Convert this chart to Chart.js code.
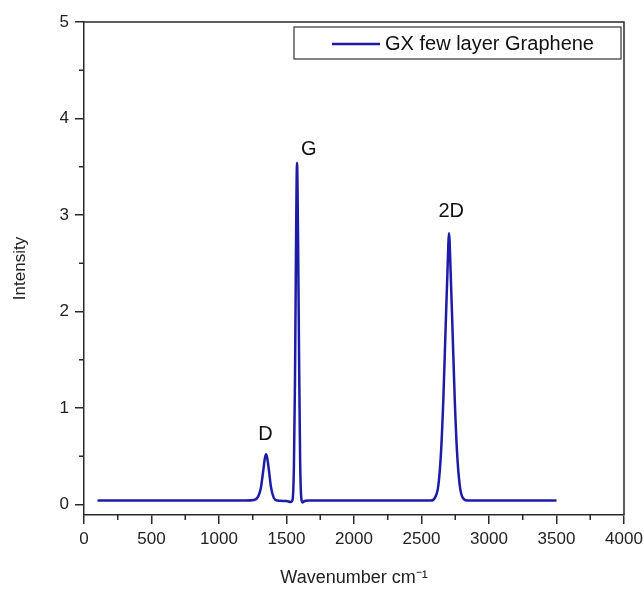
<!DOCTYPE html>
<html>
<head>
<meta charset="utf-8">
<script src="https://cdn.jsdelivr.net/npm/chart.js@4.4.0/dist/chart.umd.min.js"></script>
<style>
  html, body { margin: 0; padding: 0; background: #fff; }
  #wrap { width: 644px; height: 589px; }
</style>
</head>
<body>
<div id="wrap"><canvas id="raman"></canvas></div>
<script>
// Raman spectrum
const wavenumber = [100, 500, 1000, 1200, 1260, 1290, 1310, 1325, 1340, 1348, 1356, 1370, 1385, 1405, 1430, 1500, 1530, 1545,
  1555, 1563, 1570, 1578, 1586, 1594, 1601, 1610, 1620, 1635, 1660, 2000, 2400, 2570, 2600, 2625, 2645, 2662, 2678, 2692,
  2704, 2716, 2730, 2746, 2763, 2783, 2805, 2840, 3200, 3500];
const intensity = [0.04, 0.04, 0.04, 0.04, 0.045, 0.08, 0.17, 0.32, 0.48, 0.52, 0.49, 0.35, 0.18, 0.07, 0.04, 0.035, 0.025, 0.05,
  0.4, 1.3, 2.6, 3.54, 2.7, 1.4, 0.45, 0.06, 0.02, 0.035, 0.04, 0.04, 0.04, 0.04, 0.07, 0.2, 0.55, 1.1, 1.8, 2.4,
  2.81, 2.4, 1.8, 1.1, 0.55, 0.2, 0.07, 0.04, 0.04, 0.04];

const xTicks = [0, 500, 1000, 1500, 2000, 2500, 3000, 3500, 4000];
const yTicks = [0, 1, 2, 3, 4, 5];
const xMinor = [250, 750, 1250, 1750, 2250, 2750, 3250, 3750];
const yMinor = [0.5, 1.5, 2.5, 3.5, 4.5];

const peakNames = ["D", "G", "2D"];
const peakPos = [1345, 1665, 2720];
const peakTop = [0.62, 3.58, 2.93];

const seriesName = "GX few layer Graphene";
const lineColor = "#1c1ca6";
const axisColor = "#2a2a2a";
const font = "'Liberation Sans', Arial, sans-serif";

/* ---- frame, minor ticks, peak labels, legend ---- */
const extras = {
  id: "extras",
  afterDraw(chart) {
    const { ctx, chartArea: a, scales: { x, y } } = chart;
    ctx.save();
    ctx.strokeStyle = axisColor;
    ctx.lineWidth = 1.5;
    ctx.beginPath();
    ctx.moveTo(a.left, a.top);
    ctx.lineTo(a.right, a.top);
    ctx.lineTo(a.right, a.bottom);
    ctx.stroke();

    ctx.beginPath();
    xMinor.forEach(v => {
      const px = x.getPixelForValue(v);
      ctx.moveTo(px, a.bottom);
      ctx.lineTo(px, a.bottom + 5);
    });
    yMinor.forEach(v => {
      const py = y.getPixelForValue(v);
      ctx.moveTo(a.left, py);
      ctx.lineTo(a.left - 5, py);
    });
    ctx.stroke();

    ctx.fillStyle = "#111";
    ctx.font = "20px " + font;
    ctx.textAlign = "center";
    ctx.textBaseline = "bottom";
    peakNames.forEach((n, i) => {
      ctx.fillText(n, x.getPixelForValue(peakPos[i]), y.getPixelForValue(peakTop[i]));
    });

    // legend box
    const lx = 294, ly = 27, lw = 327, lh = 32;
    ctx.lineWidth = 1.2;
    ctx.strokeStyle = "#333";
    ctx.strokeRect(lx, ly, lw, lh);
    ctx.strokeStyle = lineColor;
    ctx.lineWidth = 2.5;
    ctx.beginPath();
    ctx.moveTo(332, ly + lh / 2 + 1);
    ctx.lineTo(380, ly + lh / 2 + 1);
    ctx.stroke();
    ctx.fillStyle = "#111";
    ctx.font = "20px " + font;
    ctx.textAlign = "left";
    ctx.textBaseline = "middle";
    ctx.fillText(seriesName, 385, ly + lh / 2 + 1);
    ctx.restore();
  }
};

new Chart(document.getElementById("raman"), {
  type: "line",
  data: {
    datasets: [{
      label: seriesName,
      data: wavenumber.map((w, i) => ({ x: w, y: intensity[i] })),
      borderColor: lineColor,
      borderWidth: 2.5,
      pointRadius: 0,
      cubicInterpolationMode: "monotone",
      fill: false
    }]
  },
  options: {
    responsive: true,
    maintainAspectRatio: false,
    animation: false,
    layout: { padding: { top: 22, right: 20, left: 0, bottom: 0 } },
    plugins: { legend: { display: false }, tooltip: { enabled: false } },
    scales: {
      x: {
        type: "linear",
        min: 0,
        max: 4000,
        afterBuildTicks: s => { s.ticks = xTicks.map(v => ({ value: v })); },
        afterFit: s => { s.height = 74; s.paddingLeft = 0; s.paddingRight = 0; },
        grid: { drawOnChartArea: false, tickLength: 9, color: axisColor, lineWidth: 1.5 },
        border: { color: axisColor, width: 1.5 },
        ticks: { color: "#222", font: { family: font, size: 17 }, padding: 5, maxRotation: 0, callback: v => String(v) },
        title: { display: true, text: "Wavenumber cm⁻¹", color: "#222", font: { family: font, size: 18 }, padding: { top: 4, bottom: 0 } }
      },
      y: {
        min: -0.11,
        max: 5,
        afterBuildTicks: s => { s.ticks = yTicks.map(v => ({ value: v })); },
        afterFit: s => { s.width = 84; },
        grid: { drawOnChartArea: false, tickLength: 9, color: axisColor, lineWidth: 1.5 },
        border: { color: axisColor, width: 1.5 },
        ticks: { color: "#222", font: { family: font, size: 17 }, padding: 6, callback: v => String(v) },
        title: { display: true, text: "Intensity", color: "#222", font: { family: font, size: 17 }, padding: { top: 10, bottom: 0 } }
      }
    }
  },
  plugins: [extras]
});
</script>
</body>
</html>
